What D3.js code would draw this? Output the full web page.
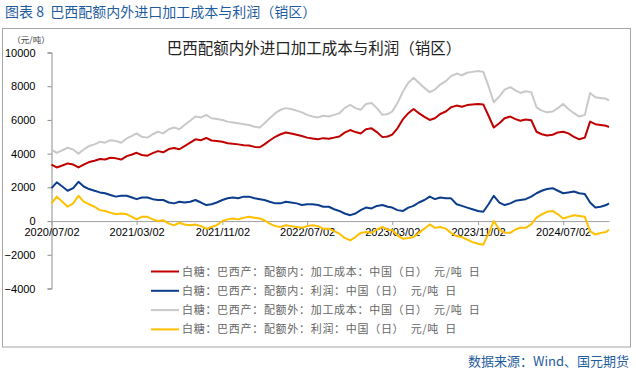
<!DOCTYPE html>
<html>
<head>
<meta charset="utf-8">
<script src="https://cdn.jsdelivr.net/npm/d3@7"></script>
<style>
  body { margin: 0; background: #fff; }
  svg { display: block; }
</style>
</head>
<body>
<svg width="636" height="376"></svg>
<script>
// half-monthly readings
var dates = ["2020-07-02","2020-07-17","2020-08-02","2020-08-17","2020-09-02","2020-09-17","2020-10-02","2020-10-17",
  "2020-11-02","2020-11-17","2020-12-02","2020-12-17","2021-01-02","2021-01-17","2021-02-02","2021-02-17",
  "2021-03-02","2021-03-17","2021-04-02","2021-04-17","2021-05-02","2021-05-17","2021-06-02","2021-06-17",
  "2021-07-02","2021-07-17","2021-08-02","2021-08-17","2021-09-02","2021-09-17","2021-10-02","2021-10-17",
  "2021-11-02","2021-11-17","2021-12-02","2021-12-17","2022-01-02","2022-01-17","2022-02-02","2022-02-17",
  "2022-03-02","2022-03-17","2022-04-02","2022-04-17","2022-05-02","2022-05-17","2022-06-02","2022-06-17",
  "2022-07-02","2022-07-17","2022-08-02","2022-08-17","2022-09-02","2022-09-17","2022-10-02","2022-10-17",
  "2022-11-02","2022-11-17","2022-12-02","2022-12-17","2023-01-02","2023-01-17","2023-02-02","2023-02-17",
  "2023-03-02","2023-03-17","2023-04-02","2023-04-17","2023-05-02","2023-05-17","2023-06-02","2023-06-17",
  "2023-07-02","2023-07-17","2023-08-02","2023-08-17","2023-09-02","2023-09-17","2023-10-02","2023-10-17",
  "2023-11-02","2023-11-17","2023-12-02","2023-12-17","2024-01-02","2024-01-17","2024-02-02","2024-02-17",
  "2024-03-02","2024-03-17","2024-04-02","2024-04-17","2024-05-02","2024-05-17","2024-06-02","2024-06-17",
  "2024-07-02","2024-07-17","2024-08-02","2024-08-17","2024-09-02","2024-09-17","2024-10-02","2024-10-17",
  "2024-11-02","2024-11-10"];

// 配额内 加工成本
var costIn = [3350,3180,3300,3420,3350,3180,3350,3500, 3580,3680,3650,3760,3720,3650,3850,3950,
  4050,3920,3880,4030,4150,4080,4270,4340, 4260,4450,4650,4850,4800,4930,4780,4750,
  4700,4620,4580,4550,4500,4480,4400,4380, 4550,4780,5000,5150,5250,5200,5120,5050,
  4950,4900,4850,4920,4880,4950,5020,5250, 5400,5280,5200,5450,5500,5280,4980,5020,
  5130,5500,6050,6400,6650,6400,6180,6000, 6100,6350,6500,6750,6850,6780,6880,6920,
  6950,6920,6250,5550,5800,6100,6200,6050, 5950,6020,5980,5300,5150,5080,5120,5260,
  5300,5200,5000,4850,4950,5900,5750,5700, 5650,5580];

// 配额内 利润
var profitIn = [1950,2300,2050,1800,1950,2330,2050,1900, 1800,1700,1650,1550,1450,1500,1500,1400,
  1300,1400,1400,1300,1250,1250,1100,1050, 1150,1100,1150,1250,1100,950,1000,1100,
  1250,1350,1400,1350,1450,1450,1350,1300, 1250,1150,1050,1050,1150,1100,1050,950,
  1000,1000,950,850,850,700,600,450, 350,450,650,800,750,900,950,850,
  800,650,600,800,900,1100,1250,1450, 1300,1400,1350,1350,1000,900,800,700,
  600,550,1000,1500,1100,950,1050,1200, 1250,1300,1450,1650,1800,1900,1950,1800,
  1650,1700,1750,1650,1600,1100,800,850, 950,1050];

// 配额外 加工成本
var costOut = [4250,4050,4200,4350,4250,4000,4250,4450, 4550,4700,4650,4800,4750,4650,4900,5050,
  5200,5000,4950,5150,5300,5200,5450,5550, 5450,5700,5950,6200,6150,6300,6100,6050,
  6000,5900,5850,5800,5750,5700,5600,5550, 5800,6100,6400,6600,6700,6650,6550,6450,
  6300,6200,6150,6250,6200,6300,6400,6700, 6900,6700,6600,6950,7000,6700,6300,6350,
  6500,7000,7700,8200,8500,8200,7900,7650, 7800,8100,8300,8600,8750,8650,8800,8850,
  8900,8850,8000,7050,7400,7800,7950,7750, 7600,7700,7650,6750,6550,6450,6500,6700,
  6950,6650,6400,6200,6300,7600,7350,7300, 7250,7150];

// 配额外 利润
var profitOut = [1050,1450,1150,850,1050,1500,1150,1000, 850,650,600,500,400,450,400,250,
  100,250,250,100,0,50,-150,-250, -100,-200,-250,-200,-300,-450,-350,-250,
  0,100,150,100,200,250,200,150, 50,-150,-300,-350,-250,-300,-350,-400,
  -300,-250,-300,-450,-450,-600,-750,-1000, -1150,-950,-700,-650,-700,-500,-350,-500,
  -550,-850,-1050,-1000,-950,-700,-450,-200, -400,-350,-450,-700,-900,-950,-1100,-1250,
  -1350,-1400,-750,0,-500,-700,-700,-500, -400,-400,-200,200,400,550,600,400,
  150,250,350,300,250,-600,-800,-700, -650,-500];

var seriesNames = ["白糖：巴西产：配额内：加工成本：中国（日）  元/吨  日",
  "白糖：巴西产：配额内：利润：中国（日）  元/吨  日",
  "白糖：巴西产：配额外：加工成本：中国（日）  元/吨  日",
  "白糖：巴西产：配额外：利润：中国（日）  元/吨  日"];
var seriesColors = ["#c00000", "#0b3d8c", "#c9c9c9", "#ffc000"];
var seriesValues = [costIn, profitIn, costOut, profitOut];

var yTicks = [10000, 8000, 6000, 4000, 2000, 0, -2000, -4000];
var xTickDates = ["2020-07-02","2021-03-02","2021-11-02","2022-07-02","2023-03-02","2023-11-02","2024-07-02"];

var parse = d3.timeParse("%Y-%m-%d");
var fmt = d3.timeFormat("%Y/%m/%d");
var cn = "'Noto Sans CJK SC', sans-serif";
var num = "'Liberation Sans', Arial, sans-serif";

var svg = d3.select("svg");

var xScale = d3.scaleTime()
  .domain([parse("2020-07-02"), parse("2024-11-10")])
  .range([51.5, 609]);
var yScale = d3.scaleLinear().domain([-4000, 10000]).range([288.5, 52.5]);

// header + frame
svg.append("text")
  .attr("x", 5).attr("y", 17)
  .style("font-family", cn).style("font-size", "14px")
  .style("white-space", "pre")
  .attr("fill", "#1f5c9e")
  .text("图表 8  巴西配额内外进口加工成本与利润（销区）");

svg.append("rect")
  .attr("x", 2.5).attr("y", 28.5).attr("width", 628).attr("height", 318.5)
  .attr("fill", "none").attr("stroke", "#a6a6a6");

svg.append("text")
  .attr("x", 314).attr("y", 54)
  .attr("text-anchor", "middle")
  .style("font-family", cn).style("font-size", "15.5px")
  .attr("fill", "#222")
  .text("巴西配额内外进口加工成本与利润（销区）");

svg.append("text")
  .attr("x", 31).attr("y", 43)
  .attr("text-anchor", "middle")
  .style("font-family", cn).style("font-size", "8.5px")
  .attr("fill", "#444")
  .text("（元/吨）");

// y axis
var yAxis = d3.axisLeft(yScale).tickValues(yTicks).tickSize(4).tickPadding(12)
  .tickFormat(d => d < 0 ? "\u2212" + Math.abs(d) : d);
var yG = svg.append("g").attr("transform", "translate(51.5,0)").call(yAxis);
yG.selectAll("path, line").attr("stroke", "#8c8c8c");
yG.selectAll("text").style("font-family", num).style("font-size", "11px").attr("fill", "#000");

// x axis on the zero line
var xAxis = d3.axisBottom(xScale)
  .tickValues(xTickDates.map(parse))
  .tickSize(4).tickSizeOuter(0).tickPadding(3)
  .tickFormat(fmt);
var xG = svg.append("g").attr("transform", "translate(0," + yScale(0) + ")").call(xAxis);
xG.selectAll("path, line").attr("stroke", "#a0a0a0");
xG.selectAll("text").style("font-family", num).style("font-size", "11px").attr("fill", "#000");

// lines
var line = d3.line()
  .x((d, i) => xScale(parse(dates[i])))
  .y(d => yScale(d));

svg.selectAll(".series")
  .data(seriesValues)
  .enter()
  .append("path")
    .attr("class", "series")
    .attr("d", d => line(d))
    .attr("fill", "none")
    .attr("stroke", (d, i) => seriesColors[i])
    .attr("stroke-width", 2)
    .attr("stroke-linejoin", "round");

// legend
var legend = svg.selectAll(".leg")
  .data(seriesNames)
  .enter()
  .append("g")
    .attr("class", "leg")
    .attr("transform", (d, i) => "translate(151," + (271.5 + i * 19.3) + ")");

legend.append("line")
  .attr("x1", 0).attr("x2", 28)
  .attr("stroke", (d, i) => seriesColors[i])
  .attr("stroke-width", 2);

legend.append("text")
  .attr("x", 31).attr("y", 4)
  .style("font-family", cn).style("font-size", "11px")
  .style("letter-spacing", "0.7px")
  .style("white-space", "pre")
  .attr("fill", "#666")
  .text(d => d);

// source
svg.append("text")
  .attr("x", 629).attr("y", 366)
  .attr("text-anchor", "end")
  .style("font-family", cn).style("font-size", "13px")
  .attr("fill", "#1f5c9e")
  .text("数据来源：Wind、国元期货");
</script>
</body>
</html>
